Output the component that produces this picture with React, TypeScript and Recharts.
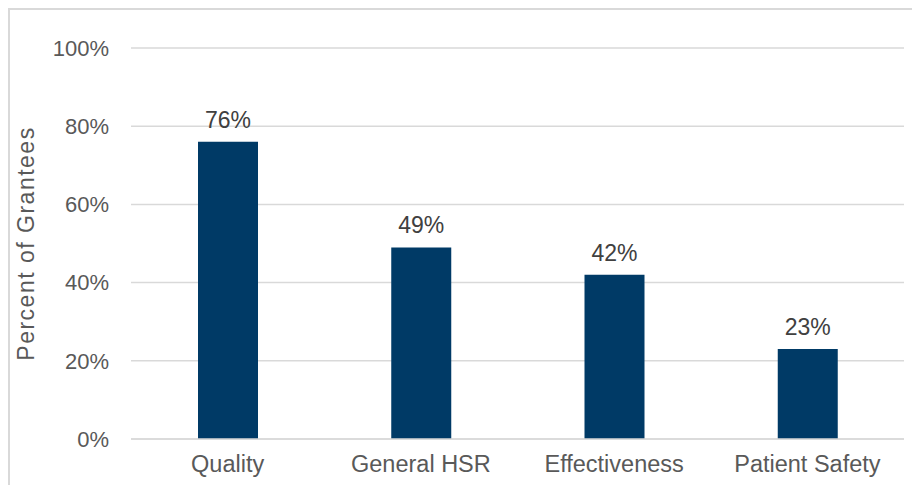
import React from "react";
import { BarChart, Bar, XAxis, YAxis, CartesianGrid, LabelList } from "recharts";

const topics = ["Quality", "General HSR", "Effectiveness", "Patient Safety"];
const grantees = [76, 49, 42, 23];
const yTicks = [0, 20, 40, 60, 80, 100];

const data = topics.map((topic, i) => ({ topic, pct: grantees[i] }));

const font = "'Liberation Sans', Arial, sans-serif";
const axisGray = "#595959";

const App: React.FC = () => {
  return (
    <div
      style={{
        width: 910,
        height: 475,
        borderTop: "2px solid #d9d9d9",
        borderLeft: "2px solid #d9d9d9",
        overflow: "hidden",
        fontFamily: font,
      }}
    >
      <BarChart
        width={910}
        height={475}
        data={data}
        margin={{ top: 38, right: 16, bottom: 0, left: 0 }}
        barSize={60}
      >
        <CartesianGrid vertical={false} stroke="#d9d9d9" strokeWidth={1.5} />
        <XAxis
          dataKey="topic"
          axisLine={{ stroke: "#d9d9d9", strokeWidth: 1.5 }}
          tickLine={false}
          tickSize={0}
          tickMargin={16}
          height={46}
          tick={{ fill: axisGray, fontSize: 23.5, fontFamily: font }}
        />
        <YAxis
          domain={[0, 100]}
          ticks={yTicks}
          tickFormatter={(v: number) => `${v}%`}
          axisLine={false}
          tickLine={false}
          tickSize={0}
          tickMargin={22}
          width={121}
          tick={{ fill: axisGray, fontSize: 22, fontFamily: font }}
          label={{
            value: "Percent of Grantees",
            angle: -90,
            position: "insideLeft",
            offset: 16,
            style: {
              fill: axisGray,
              fontSize: 23,
              fontFamily: font,
              letterSpacing: 1.5,
              textAnchor: "middle",
            },
          }}
        />
        <Bar dataKey="pct" fill="#003a66" isAnimationActive={false}>
          <LabelList
            dataKey="pct"
            position="top"
            offset={14}
            formatter={(v: number) => `${v}%`}
            style={{ fill: "#404040", fontSize: 23, fontFamily: font }}
          />
        </Bar>
      </BarChart>
    </div>
  );
};

export default App;
